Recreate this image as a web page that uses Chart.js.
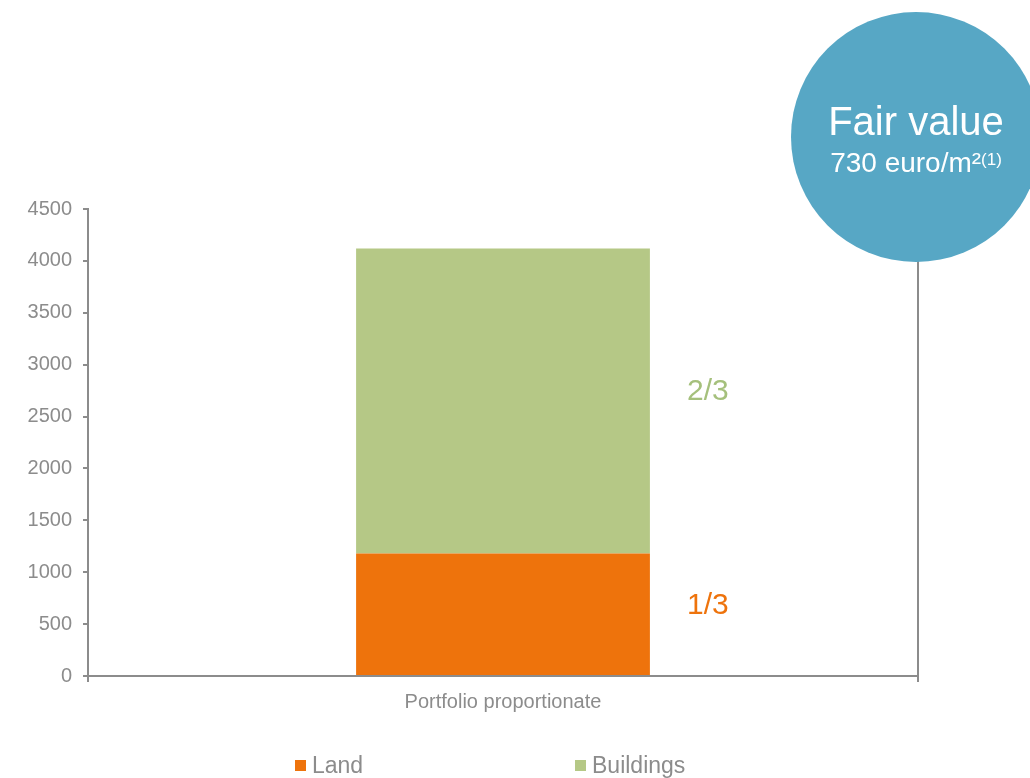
<!DOCTYPE html>
<html lang="en">

<head>
    <meta charset="UTF-8">
    <title>Fair value</title>
    <style>
        html, body { margin: 0; padding: 0; background: #fff; }
        #wrap { width: 1030px; height: 778px; }
    </style>
</head>

<body>
    <div id="wrap"><canvas id="chart" width="1030" height="778"></canvas></div>
    <script src="https://cdn.jsdelivr.net/npm/chart.js@4"></script>
    <script>
        const categories = ["Portfolio proportionate"];
        const seriesNames = ["Land", "Buildings"];
        const landValues = [1180];
        const buildingValues = [2940];
        const shareLabels = ["1/3", "2/3"];
        const yTicks = [0, 500, 1000, 1500, 2000, 2500, 3000, 3500, 4000, 4500];
        const bubbleTitle = "Fair value";
        const bubbleValue = "730 euro/m²";
        const bubbleNote = "(1)";

        const colors = ["#ee730c", "#b5c886"];
        const labelColors = ["#ee730c", "#a5c07c"];
        const grey = "#8c8c8c";
        const font = "'Liberation Sans', Arial, sans-serif";

        // bubble, connecting line, share labels and legend
        const extras = {
            id: "extras",
            afterDraw(chart) {
                const ctx = chart.ctx;
                const area = chart.chartArea;
                ctx.save();

                // line from the bubble down to the axis
                ctx.strokeStyle = grey;
                ctx.lineWidth = 2;
                ctx.beginPath();
                ctx.moveTo(area.right, 200);
                ctx.lineTo(area.right, area.bottom + 5);
                ctx.stroke();

                // bubble
                const cx = area.right - 2, cy = 137, r = 125;
                ctx.fillStyle = "#57a7c5";
                ctx.beginPath();
                ctx.arc(cx, cy, r, 0, Math.PI * 2);
                ctx.fill();

                ctx.fillStyle = "#fff";
                ctx.textBaseline = "alphabetic";
                ctx.textAlign = "center";
                ctx.font = "40px " + font;
                ctx.fillText(bubbleTitle, cx, 135);

                ctx.textAlign = "left";
                ctx.font = "28px " + font;
                const w1 = ctx.measureText(bubbleValue).width;
                ctx.font = "17px " + font;
                const w2 = ctx.measureText(bubbleNote).width;
                const x0 = cx - (w1 + w2) / 2;
                ctx.font = "28px " + font;
                ctx.fillText(bubbleValue, x0, 172);
                ctx.font = "17px " + font;
                ctx.fillText(bubbleNote, x0 + w1, 165);

                // share labels next to each segment
                ctx.textAlign = "center";
                ctx.textBaseline = "middle";
                ctx.font = "30px " + font;
                chart.data.datasets.forEach((ds, i) => {
                    const el = chart.getDatasetMeta(i).data[0];
                    const x = el.x + el.width / 2 + 58;
                    const y = (el.y + el.base) / 2 - 9;
                    ctx.fillStyle = labelColors[i];
                    ctx.fillText(shareLabels[i], x, y);
                });

                // legend
                ctx.font = "23px " + font;
                ctx.textAlign = "left";
                const legendX = [295, 575];
                chart.data.datasets.forEach((ds, i) => {
                    ctx.fillStyle = ds.backgroundColor;
                    ctx.fillRect(legendX[i], 760, 11, 11);
                    ctx.fillStyle = grey;
                    ctx.fillText(ds.label, legendX[i] + 17, 767);
                });

                ctx.restore();
            }
        };

        new Chart(document.getElementById("chart"), {
            type: "bar",
            data: {
                labels: categories,
                datasets: [
                    { label: seriesNames[0], data: landValues, backgroundColor: colors[0] },
                    { label: seriesNames[1], data: buildingValues, backgroundColor: colors[1] }
                ]
            },
            options: {
                responsive: false,
                animation: false,
                layout: { padding: { top: 209, right: 112, left: 0, bottom: 0 } },
                plugins: {
                    legend: { display: false },
                    tooltip: { enabled: false }
                },
                datasets: {
                    bar: { barPercentage: 0.354, categoryPercentage: 1 }
                },
                scales: {
                    x: {
                        stacked: true,
                        grid: { offset: true, drawOnChartArea: false, drawTicks: true, tickLength: 6, color: grey, lineWidth: 2 },
                        border: { color: grey, width: 2 },
                        ticks: { color: grey, font: { family: font, size: 20 }, padding: 8 },
                        afterFit(scale) { scale.height = 102; }
                    },
                    y: {
                        stacked: true,
                        min: 0,
                        max: 4500,
                        afterBuildTicks(scale) { scale.ticks = yTicks.map(v => ({ value: v })); },
                        grid: { drawOnChartArea: false, drawTicks: true, tickLength: 5, color: grey, lineWidth: 2 },
                        border: { color: grey, width: 2 },
                        ticks: { color: grey, font: { family: font, size: 20 }, padding: 11, callback: v => String(v) },
                        afterFit(scale) { scale.width = 88; }
                    }
                }
            },
            plugins: [extras]
        });
    </script>
</body>

</html>
